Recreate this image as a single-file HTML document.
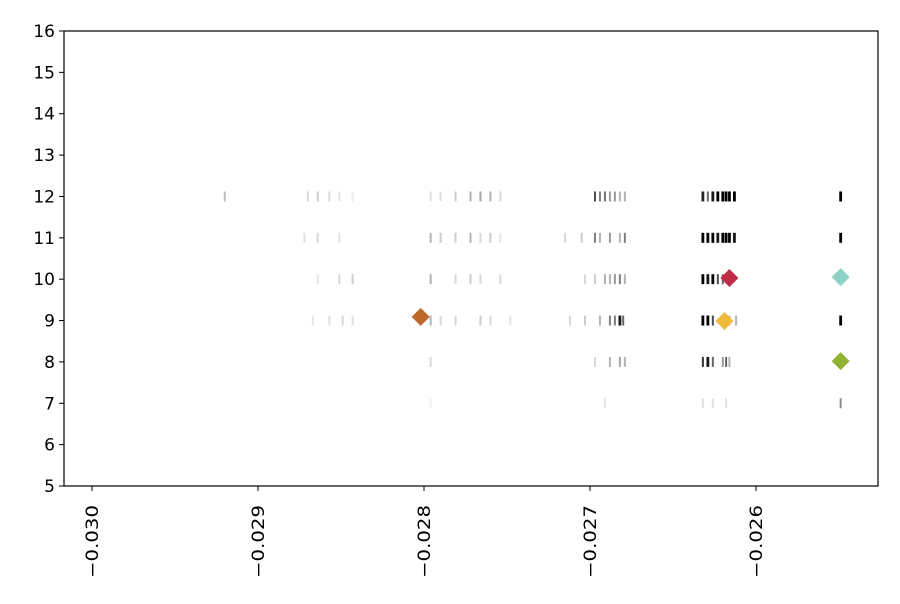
<!DOCTYPE html>
<html><head><meta charset="utf-8"><style>
body{margin:0;background:#fff;font-family:"DejaVu Sans","Liberation Sans",sans-serif}
</style></head><body>
<svg id="chart" width="900" height="600" xmlns="http://www.w3.org/2000/svg"></svg>
<script>
const xTicks=[-0.030,-0.029,-0.028,-0.027,-0.026];
const xTickLabels=["−0.030","−0.029","−0.028","−0.027","−0.026"];
const yTicks=[5,6,7,8,9,10,11,12,13,14,15,16];
const tickX=[
-0.02920,-0.02870,-0.02864,-0.02857,-0.02851,-0.02843,-0.02796,-0.02790,-0.02781,-0.02772,-0.02766,-0.02760,-0.02754,-0.02697,-0.02694,-0.02691,-0.02688,-0.02685,-0.02682,-0.02679,-0.02632,-0.02629,-0.02626,-0.02623,-0.02620,-0.02618,-0.02616,-0.02613,-0.02549,
-0.02872,-0.02864,-0.02851,-0.02796,-0.02790,-0.02781,-0.02772,-0.02766,-0.02760,-0.02754,-0.02715,-0.02705,-0.02697,-0.02694,-0.02688,-0.02682,-0.02679,-0.02632,-0.02629,-0.02626,-0.02623,-0.02620,-0.02618,-0.02616,-0.02613,-0.02549,
-0.02864,-0.02851,-0.02843,-0.02796,-0.02781,-0.02772,-0.02766,-0.02754,-0.02703,-0.02697,-0.02691,-0.02688,-0.02685,-0.02682,-0.02679,-0.02632,-0.02629,-0.02626,-0.02623,-0.02620,-0.02616,
-0.02867,-0.02857,-0.02849,-0.02843,-0.02796,-0.02790,-0.02781,-0.02766,-0.02760,-0.02748,-0.02712,-0.02703,-0.02694,-0.02688,-0.02685,-0.02682,-0.02680,-0.02632,-0.02629,-0.02626,-0.02620,-0.02616,-0.02612,-0.02549,
-0.02796,-0.02697,-0.02688,-0.02682,-0.02679,-0.02632,-0.02629,-0.02626,-0.02620,-0.02618,-0.02616,
-0.02796,-0.02691,-0.02632,-0.02626,-0.02618,-0.02549];
const tickY=[
12,12,12,12,12,12,12,12,12,12,12,12,12,12,12,12,12,12,12,12,12,12,12,12,12,12,12,12,12,
11,11,11,11,11,11,11,11,11,11,11,11,11,11,11,11,11,11,11,11,11,11,11,11,11,11,
10,10,10,10,10,10,10,10,10,10,10,10,10,10,10,10,10,10,10,10,10,
9,9,9,9,9,9,9,9,9,9,9,9,9,9,9,9,9,9,9,9,9,9,9,9,
8,8,8,8,8,8,8,8,8,8,8,
7,7,7,7,7,7];
const tickAlpha=[
0.25,0.15,0.2,0.15,0.1,0.08,0.12,0.12,0.2,0.3,0.35,0.3,0.15,0.7,0.5,0.55,0.4,0.4,0.3,0.3,0.85,0.6,0.9,1,1,1,1,1,1,
0.12,0.15,0.1,0.3,0.2,0.2,0.3,0.15,0.2,0.1,0.15,0.2,0.5,0.3,0.4,0.3,0.5,1,1,1,0.9,1,1,1,0.9,1,
0.1,0.15,0.2,0.3,0.15,0.2,0.15,0.15,0.15,0.2,0.3,0.3,0.4,0.5,0.3,1,0.9,1,0.7,0.6,0.5,
0.1,0.12,0.15,0.12,0.3,0.15,0.15,0.2,0.15,0.1,0.15,0.2,0.3,0.5,0.5,0.9,0.6,1,1,0.7,0.4,0.3,0.3,1,
0.15,0.15,0.3,0.35,0.3,0.8,0.9,0.6,0.4,0.6,0.3,
0.05,0.1,0.12,0.12,0.12,0.45];
const markerX=[-0.02802,-0.02616,-0.02619,-0.02549,-0.02549];
const markerY=[9.09,10.03,8.99,10.05,8.02];
const markerColor=["#c0672a","#bf2c45","#f0ba3c","#8dd3c7","#92b234"];
const NS="http://www.w3.org/2000/svg";
const svg=document.getElementById('chart');
const L=64,R=878,T=31,B=486;
const sx=v=>92+(v-(-0.030))*166000;
const sy=v=>B-(v-5)*(B-T)/11;
function mk(tag,attrs,parent){const e=document.createElementNS(NS,tag);for(const k in attrs)e.setAttribute(k,attrs[k]);(parent||svg).appendChild(e);return e;}
const g=mk('g',{});


for(let i=0;i<tickX.length;i++){
 const w=tickAlpha[i]>0.8?2.8:2;
 const r=mk('rect',{x:sx(tickX[i])-w/2,y:sy(tickY[i])-5,width:w,height:10,fill:'#000','fill-opacity':tickAlpha[i]},g);
 
 
}
for(let i=0;i<markerX.length;i++){
 const cx=sx(markerX[i]),cy=sy(markerY[i]),s=9;
 const p=mk('polygon',{points:`${cx},${cy-s} ${cx+s},${cy} ${cx},${cy+s} ${cx-s},${cy}`,fill:markerColor[i]});
 
 
}
const frame=mk('rect',{x:L,y:T,width:R-L,height:B-T,fill:'none',stroke:'#000','stroke-width':1.2});


yTicks.forEach(v=>{
 const y=sy(v);
 const l=mk('line',{x1:L-5,x2:L,y1:y,y2:y,stroke:'#000'});
 
 
 const t=mk('text',{x:L-9,y:y+6,'text-anchor':'end','font-size':17,fill:'#000'});
 t.textContent=String(v);
 
 
});
xTicks.forEach((v,i)=>{
 const x=sx(v);
 const l=mk('line',{x1:x,x2:x,y1:B,y2:B+5,stroke:'#000'});
 
 
 const t=mk('text',{x:0,y:0,'text-anchor':'end','font-size':17,fill:'#000',textLength:73,lengthAdjust:'spacingAndGlyphs',transform:`translate(${x+6},${B+19}) rotate(-90)`});
 t.textContent=xTickLabels[i];
 
 
});
</script>
</body></html>
